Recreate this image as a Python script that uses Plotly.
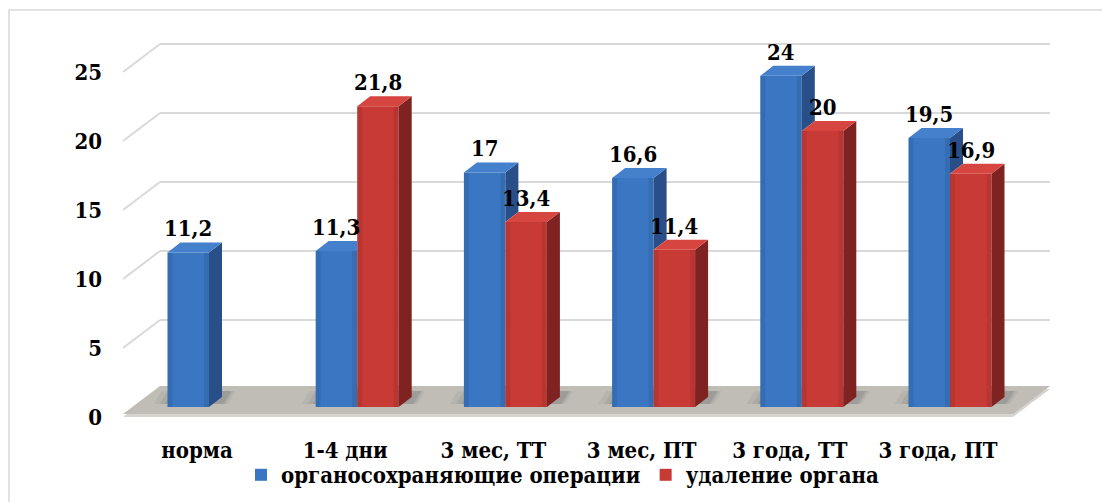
import plotly.graph_objects as go

# ---- data ----
categories = ["норма", "1-4 дни", "3 мес, ТТ", "3 мес, ПТ", "3 года, ТТ", "3 года, ПТ"]
organ_sparing = [11.2, 11.3, 17, 16.6, 24, 19.5]
organ_removal = [None, 21.8, 13.4, 11.4, 20, 16.9]
series_names = ["органосохраняющие операции", "удаление органа"]
y_ticks = [0, 5, 10, 15, 20, 25]

# ---- layout geometry (pixels) ----
W, H = 1102, 502
L, R, T, B = 110, 1070, 20, 432          # plot area
CAT_PX = 148.2                            # px between category centres
UNIT_PX = 13.8                            # px per value unit
X0_PX, Y0_PX = 209, 407                   # category 0 / value 0 on the bar plane
LABEL_SHIFT_PX = 12                       # category labels sit on the front plane


def xu(px):
    return px / CAT_PX


def yu(px):
    return px / UNIT_PX


def paper_x(px):
    return (px - L) / (R - L)


def paper_y(px):
    return (B - px) / (B - T)


x_range = [xu(L - X0_PX), xu(R - X0_PX)]
y_range = [yu(Y0_PX - B), yu(Y0_PX - T)]

BAR_W = xu(41.5)
DX, DY = xu(13), yu(10)                   # bar depth
FX, FY = -xu(13), -yu(10)                 # front plane offset
BX, BY = xu(24), yu(18)                   # back wall offset
FLOOR_L, FLOOR_R = xu(136 - X0_PX), xu(1026 - X0_PX)

FONT = "DejaVu Serif Condensed, DejaVu Serif"
BLUE = dict(front="#3A76C2", side="#284F88", top="#4580CC")
RED = dict(front="#C83A36", side="#7E2321", top="#D6453F")
GRID = "#D9D9D9"

fig = go.Figure()

# front faces
fig.add_trace(go.Bar(
    x=list(range(len(categories))), y=organ_sparing, width=BAR_W, offset=-BAR_W,
    marker=dict(color=BLUE["front"], line=dict(width=0)), name=series_names[0]))
fig.add_trace(go.Bar(
    x=list(range(len(categories))), y=organ_removal, width=BAR_W, offset=0,
    marker=dict(color=RED["front"], line=dict(width=0)), name=series_names[1]))


def poly_trace(polys, color):
    xs, ys = [], []
    for p in polys:
        for (a, b) in p:
            xs.append(a)
            ys.append(b)
        xs.append(p[0][0])
        ys.append(p[0][1])
        xs.append(None)
        ys.append(None)
    return go.Scatter(x=xs, y=ys, mode="lines", fill="toself", fillcolor=color,
                      line=dict(width=0, color=color), hoverinfo="skip",
                      showlegend=False)


blue_sides, blue_tops, red_sides, red_tops = [], [], [], []
edge_shade = []
for i, (vb, vr) in enumerate(zip(organ_sparing, organ_removal)):
    # blue bar: x from i - w to i
    x0, x1 = i - BAR_W, i
    if vr is None or vr < vb:
        base = 0 if vr is None else vr
        blue_sides.append([(x1, base), (x1 + DX, base + DY), (x1 + DX, vb + DY), (x1, vb)])
    A, Bp, C, D = (x0, vb), (x0 + DX, vb + DY), (x1 + DX, vb + DY), (x1, vb)
    if vr is None or vr <= vb:
        blue_tops.append([A, Bp, C, D])
    elif vr >= vb + DY:
        blue_tops.append([A, Bp, (x1, vb + DY), D])
    else:
        px_ = x1 + DX * (vr - vb) / DY
        blue_tops.append([A, Bp, C, (px_, vr), (x1, vr), D])
    # red bar: x from i to i + w
    if vr is not None:
        r0, r1 = i, i + BAR_W
        red_sides.append([(r1, 0), (r1 + DX, DY), (r1 + DX, vr + DY), (r1, vr)])
        red_tops.append([(r0, vr), (r0 + DX, vr + DY), (r1 + DX, vr + DY), (r1, vr)])
    # slight darkening along the vertical edges of each front face
    for lo, v in [(x0, vb), (i, vr)]:
        if v is None:
            continue
        e = xu(5)
        edge_shade.append([(lo, 0), (lo + e, 0), (lo + e, v), (lo, v)])
        edge_shade.append([(lo + BAR_W - e, 0), (lo + BAR_W, 0), (lo + BAR_W, v), (lo + BAR_W - e, v)])

fig.add_trace(poly_trace(edge_shade, "rgba(0,0,0,0.07)"))
fig.add_trace(poly_trace(blue_sides, BLUE["side"]))
fig.add_trace(poly_trace(blue_tops, BLUE["top"]))
fig.add_trace(poly_trace(red_sides, RED["side"]))
fig.add_trace(poly_trace(red_tops, RED["top"]))

# empty trace so the front-plane axes are laid out
fig.add_trace(go.Scatter(x=[], y=[], xaxis="x2", yaxis="y2", showlegend=False))

shapes = []


def path(points):
    return "M " + " L ".join(f"{a},{b}" for a, b in points) + " Z"


# back wall and side wall gridlines
for t in y_ticks[1:]:
    shapes.append(dict(type="line", xref="x", yref="y", layer="below",
                       x0=FLOOR_L + BX, y0=t + BY, x1=FLOOR_R + BX, y1=t + BY,
                       line=dict(color=GRID, width=2)))
    shapes.append(dict(type="line", xref="x", yref="y", layer="below",
                       x0=FLOOR_L + FX, y0=t + FY, x1=FLOOR_L + BX, y1=t + BY,
                       line=dict(color=GRID, width=2)))

# floor: thickness edge, then top surface
floor = [(FLOOR_L + FX, FY), (FLOOR_R + FX, FY), (FLOOR_R + BX, BY), (FLOOR_L + BX, BY)]
shapes.append(dict(type="path", xref="x", yref="y", layer="below", path=path(floor),
                   fillcolor="#D6D4CF", line=dict(width=0)))
lift = yu(3)
floor_top = [(a, b + lift) for a, b in floor]
shapes.append(dict(type="path", xref="x", yref="y", layer="below", path=path(floor_top),
                   fillcolor="#BFBDB6", line=dict(width=0)))

# soft shadows behind the bars on the floor
for i, (vb, vr) in enumerate(zip(organ_sparing, organ_removal)):
    left = i - BAR_W
    right = i + (BAR_W if vr is not None else 0)
    for grow, op in [(xu(14), 0.06), (xu(8), 0.08), (xu(3), 0.10)]:
        pts = [(left - grow, yu(3)), (right + DX + grow * 0.4, yu(3)),
               (right + DX + grow * 0.4 + xu(8), DY + yu(6)),
               (left - grow + xu(8), DY + yu(6))]
        shapes.append(dict(type="path", xref="x", yref="y", layer="below", path=path(pts),
                           fillcolor=f"rgba(50,50,50,{op})", line=dict(width=0)))

# outer frame
shapes.append(dict(type="rect", xref="paper", yref="paper",
                   x0=paper_x(9), x1=paper_x(1112), y0=paper_y(512), y1=paper_y(10),
                   line=dict(color="#D9D9D9", width=1.5), fillcolor="rgba(0,0,0,0)",
                   layer="below"))

# value labels
annotations = []
for i, (vb, vr) in enumerate(zip(organ_sparing, organ_removal)):
    for v, xc in [(vb, i - BAR_W / 2), (vr, i + BAR_W / 2)]:
        if v is None:
            continue
        annotations.append(dict(
            x=xc, y=v, xref="x", yref="y", text=f"<b>{v:g}</b>".replace(".", ","),
            showarrow=False, yanchor="bottom", xanchor="center", yshift=9,
            font=dict(family=FONT, size=22, color="black")))

tick_font = dict(family=FONT, size=22, color="black")

fig.update_layout(
    width=W, height=H,
    margin=dict(l=L, r=W - R, t=T, b=H - B, autoexpand=False),
    paper_bgcolor="white", plot_bgcolor="white",
    barmode="overlay",
    showlegend=True,
    legend=dict(orientation="h", x=paper_x(563), xanchor="center",
                y=paper_y(475), yanchor="middle",
                font=dict(family=FONT, size=22, color="black"),
                bgcolor="rgba(0,0,0,0)", itemclick=False),
    xaxis=dict(range=x_range, showticklabels=False, showgrid=False, zeroline=False,
               showline=False, ticks=""),
    yaxis=dict(range=y_range, showticklabels=False, showgrid=False, zeroline=False,
               showline=False, ticks=""),
    xaxis2=dict(range=[xu(L - X0_PX + LABEL_SHIFT_PX), xu(R - X0_PX + LABEL_SHIFT_PX)],
                overlaying="x", anchor="y", side="bottom",
                tickvals=list(range(len(categories))),
                ticktext=[f"<b>{c}</b>" for c in categories],
                tickfont=tick_font, showgrid=False, zeroline=False, showline=False,
                ticks="", ticklabelstandoff=3),
    yaxis2=dict(range=[yu(417 - B), yu(417 - T)], overlaying="y", anchor="x", side="left",
                tickvals=y_ticks, ticktext=[f"<b>{t}</b>" for t in y_ticks],
                tickfont=tick_font, showgrid=False, zeroline=False,
                showline=False, ticks="", ticklabelstandoff=7),
    shapes=shapes,
    annotations=annotations,
)
fig.data[0].name = f"<b>{series_names[0]}</b>"
fig.data[1].name = f"<b>{series_names[1]}</b>"

fig.write_html("out.html")
